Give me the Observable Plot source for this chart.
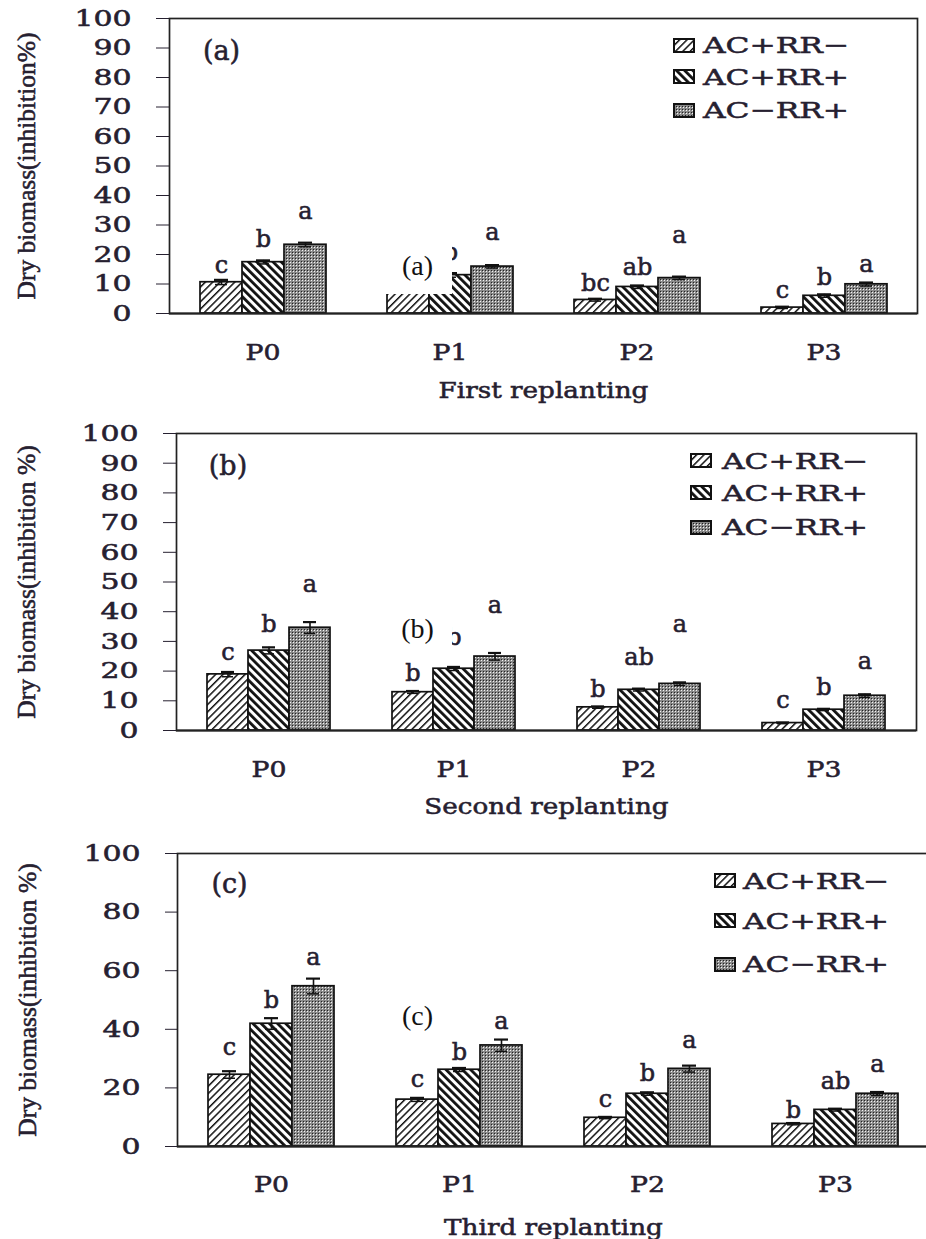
<!DOCTYPE html>
<html>
<head>
<meta charset="utf-8">
<script src="https://cdn.jsdelivr.net/npm/d3@7"></script>
<script src="https://cdn.jsdelivr.net/npm/@observablehq/plot@0.6"></script>
<style>
  html, body { margin: 0; padding: 0; background: #fff; overflow: hidden; }
  #wrap { position: relative; width: 926px; height: 1239px; overflow: hidden; }
  #wrap > svg { position: absolute; left: 0; }
  #wrap > svg text { stroke: #262030; stroke-width: 0.55px; }
  svg g[aria-label="y-axis label"] text { font-family: "Liberation Serif", serif; font-size: 25.5px; stroke-width: 0.25px; }
  .legrow { position: absolute; height: 26px; display: flex; align-items: center; z-index: 3; }
  .legrow svg { display: block; }
  .legtext { position: absolute; font-family: "DejaVu Serif", serif; font-size: 23px; color: #262030;
             -webkit-text-stroke: 0.5px #262030;
             transform: scaleX(1.36); transform-origin: left center; white-space: nowrap; line-height: 26px; z-index: 3; }
  .cover { position: absolute; background: #fff; z-index: 4; font-family: "Liberation Serif", serif; font-size: 28px;
           color: #111; display: flex; align-items: center; justify-content: center; }
</style>
</head>
<body>
<svg width="0" height="0" style="position:absolute">
  <defs>
    <pattern id="hatchL" patternUnits="userSpaceOnUse" width="5.2" height="5.2" patternTransform="rotate(45)">
      <rect width="5.2" height="5.2" fill="#fff"></rect>
      <rect x="0" width="1.5" height="5.2" fill="#111"></rect>
    </pattern>
    <pattern id="hatchR" patternUnits="userSpaceOnUse" width="5.8" height="5.8" patternTransform="rotate(-45)">
      <rect width="5.8" height="5.8" fill="#fff"></rect>
      <rect x="0" width="2.8" height="5.8" fill="#111"></rect>
    </pattern>
    <pattern id="dots" patternUnits="userSpaceOnUse" width="3" height="3">
      <rect width="3" height="3" fill="#8a8a8a"></rect>
      <rect x="1" y="1" width="1" height="1" fill="#f4f4f4"></rect>
      <rect x="0" y="0" width="1" height="1" fill="#222"></rect>
    </pattern>
  </defs>
</svg>
<div id="wrap"></div>
<script>
// ---------------- data ----------------
const groups = ["P0", "P1", "P2", "P3"];
const series = ["AC+RR−", "AC+RR+", "AC−RR+"];
const panelNames = ["(a)", "(b)", "(c)"];
const xTitles = ["First replanting", "Second replanting", "Third replanting"];
const yTitles = ["Dry biomass(inhibition%)", "Dry biomass(inhibition %)", "Dry biomass(inhibition %)"];
const ticks10 = [0, 10, 20, 30, 40, 50, 60, 70, 80, 90, 100];
const ticks20 = [0, 20, 40, 60, 80, 100];

// panel (a) first replanting (letter over P1 first bar is hidden by the white tag box)
const valuesA = [[10.6, 17.4, 23.3], [8.0, 13.0, 15.9], [4.6, 9.0, 12.0], [2.0, 6.0, 9.9]];
const errorsA = [[0.8, 0.6, 0.7], [0.6, 0.7, 0.5], [0.4, 0.5, 0.5], [0.3, 0.5, 0.6]];
const lettersA = [["c", "b", "a"], ["", "b", "a"], ["bc", "ab", "a"], ["c", "b", "a"]];
const letterAtA = [[16.3, 25.1, 34.6], [14.0, 20.8, 27.5], [10.2, 15.7, 26.4], [7.8, 12.3, 16.8]];

// panel (b) second replanting
const valuesB = [[18.9, 26.9, 34.6], [12.9, 20.8, 24.9], [7.8, 13.7, 15.7], [2.5, 7.0, 11.7]];
const errorsB = [[0.8, 1.1, 1.9], [0.4, 0.6, 1.2], [0.3, 0.4, 0.5], [0.2, 0.3, 0.5]];
const lettersB = [["c", "b", "a"], ["b", "b", "a"], ["b", "ab", "a"], ["c", "b", "a"]];
const letterAtB = [[26.4, 35.7, 49.2], [19.4, 31.4, 42.1], [14.0, 24.7, 35.7], [10.1, 14.6, 23.3]];

// panel (c) third replanting
const valuesC = [[24.5, 41.9, 54.7], [16.0, 26.2, 34.5], [9.8, 18.0, 26.5], [7.7, 12.5, 18.0]];
const errorsC = [[1.2, 1.9, 2.6], [0.6, 0.6, 2.0], [0.3, 0.5, 1.1], [0.3, 0.4, 0.6]];
const lettersC = [["c", "b", "a"], ["c", "b", "a"], ["c", "b", "a"], ["b", "ab", "a"]];
const letterAtC = [[33.9, 49.9, 64.7], [23.1, 32.2, 42.8], [16.0, 25.0, 36.2], [12.5, 22.3, 28.2]];

const panelLabelAt = [89, 89, 89.5];

// ---------------- layout / style ----------------
const fills = {"AC+RR−": "url(#hatchL)", "AC+RR+": "url(#hatchR)", "AC−RR+": "url(#dots)"};
const ink = "#262030";
const layout = [
  {top: 0, height: 410, mt: 18, mb: 97, ml: 168, mr: 9, ticks: ticks10, tickSize: 13, tickPad: 25, yOff: 153, fxPad: 30, fxOff: 84,
   legend: {sw: 673, tx: 703, rows: [45, 76.7, 110]}, box: {l: 383, t: 237, w: 69, h: 57}},
  {top: 410, height: 420, mt: 23, mb: 100, ml: 175, mr: 9, ticks: ticks10, tickSize: 13, tickPad: 25, yOff: 160, fxPad: 30, fxOff: 83,
   legend: {sw: 690, tx: 722, rows: [460.7, 492.7, 527]}, box: {l: 383, t: 606, w: 69, h: 46}},
  {top: 830, height: 409, mt: 23, mb: 93, ml: 177, mr: -3, ticks: ticks20, tickSize: 12, tickPad: 25, yOff: 160, fxPad: 29, fxOff: 88,
   legend: {sw: 714, tx: 743, rows: [880.7, 920.7, 964]}, box: {l: 383, t: 995, w: 69, h: 42}}
];
const panelData = [
  [valuesA, errorsA, lettersA, letterAtA],
  [valuesB, errorsB, lettersB, letterAtB],
  [valuesC, errorsC, lettersC, letterAtC]
];

function stretch(root, selector, k) {
  root.querySelectorAll(selector).forEach(t => {
    const L = t.getComputedTextLength();
    if (L > 0) {
      t.setAttribute("textLength", (L * k).toFixed(1));
      t.setAttribute("lengthAdjust", "spacingAndGlyphs");
    }
  });
}

const wrap = document.getElementById("wrap");

layout.forEach((L, p) => {
  const [vals, errs, lets, lat] = panelData[p];
  const rows = [];
  groups.forEach((g, i) => series.forEach((s, j) => rows.push({
    group: g, series: s, value: vals[i][j], err: errs[i][j], letter: lets[i][j], at: lat[i][j]
  })));
  const labelRow = [{group: groups[0], series: series[0], at: panelLabelAt[p], text: panelNames[p]}];

  const chart = Plot.plot({
    width: 926,
    height: L.height,
    marginTop: L.mt, marginBottom: L.mb, marginLeft: L.ml, marginRight: L.mr,
    style: {fontFamily: "'DejaVu Serif', serif", fontSize: "23px", color: ink, background: "transparent"},
    fx: {domain: groups, padding: 0, axis: "bottom", tickSize: 0, tickPadding: L.fxPad,
         label: xTitles[p], labelAnchor: "center", labelOffset: L.fxOff},
    x: {domain: series, paddingInner: 0, paddingOuter: 0.72, axis: null},
    y: {domain: [0, 100], ticks: L.ticks, tickSize: L.tickSize, tickPadding: L.tickPad,
        label: yTitles[p], labelAnchor: "center", labelOffset: L.yOff, labelArrow: "none"},
    marks: [
      ...series.map(s => Plot.barY(rows.filter(d => d.series === s), {
        fx: "group", x: "series", y: "value", fill: fills[s], stroke: "#111", strokeWidth: 1.7
      })),
      Plot.ruleX(rows, {fx: "group", x: "series", y1: d => d.value - d.err, y2: d => d.value + d.err,
        stroke: "#111", strokeWidth: 1.6}),
      Plot.tickY(rows, {fx: "group", x: "series", y: d => d.value + d.err, insetLeft: 14, insetRight: 14,
        stroke: "#111", strokeWidth: 2.2}),
      Plot.tickY(rows, {fx: "group", x: "series", y: d => d.value - d.err, insetLeft: 15, insetRight: 15,
        stroke: "#111", strokeWidth: 1.5}),
      Plot.text(rows, {fx: "group", x: "series", y: "at", text: "letter", lineAnchor: "middle",
        fontSize: 24, fill: ink, ariaLabel: "letters"}),
      Plot.text(labelRow, {fx: "group", x: "series", y: "at", text: "text", lineAnchor: "middle",
        fontSize: 27, fill: ink, ariaLabel: "plabel"}),
      Plot.ruleY([0], {stroke: "#222", strokeWidth: 2.2}),
      Plot.frame({facet: "super", stroke: "#222", strokeWidth: 1.7})
    ]
  });
  chart.style.top = L.top + "px";
  wrap.appendChild(chart);

  stretch(chart, 'g[aria-label="y-axis tick label"] text', 1.3);
  stretch(chart, 'g[aria-label="fx-axis tick label"] text', 1.16);
  stretch(chart, 'g[aria-label="fx-axis label"] text', 1.14);
  stretch(chart, 'g[aria-label="letters"] text', 1.3);
  stretch(chart, 'g[aria-label="plabel"] text', 1.3);

  // legend (pattern swatches + labels)
  series.forEach((s, j) => {
    const cy = L.legend.rows[j];
    const sw = document.createElement("div");
    sw.className = "legrow";
    sw.style.left = L.legend.sw + "px";
    sw.style.top = (cy - 13) + "px";
    sw.innerHTML = `<svg width="22" height="15"><rect x="1" y="1" width="20" height="13" fill="${fills[s]}" stroke="#111" stroke-width="2"></rect></svg>`;
    wrap.appendChild(sw);
    const tx = document.createElement("div");
    tx.className = "legtext";
    tx.style.left = L.legend.tx + "px";
    tx.style.top = (cy - 13) + "px";
    tx.textContent = s;
    wrap.appendChild(tx);
  });

  // white overlay box with the panel tag
  const box = document.createElement("div");
  box.className = "cover";
  box.style.left = L.box.l + "px";
  box.style.top = L.box.t + "px";
  box.style.width = L.box.w + "px";
  box.style.height = L.box.h + "px";
  box.textContent = panelNames[p];
  wrap.appendChild(box);
});
</script>
</body>
</html>
